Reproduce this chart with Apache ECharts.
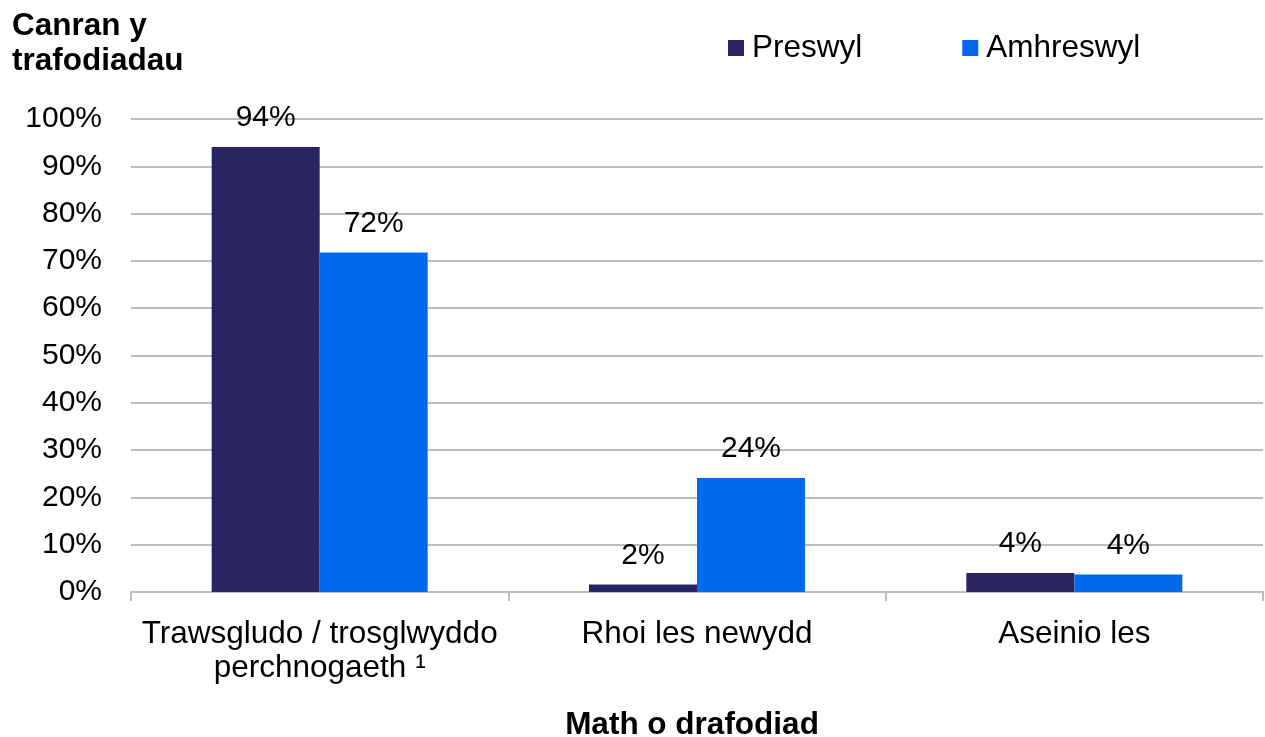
<!DOCTYPE html>
<html>
<head>
<meta charset="utf-8">
<script src="https://cdn.jsdelivr.net/npm/echarts@6/dist/echarts.min.js"></script>
<style>
html,body{margin:0;padding:0;background:#fff;}
#chart{width:1265px;height:737px;}
</style>
</head>
<body>
<div id="chart"></div>
<script>
const categories = ['Trawsgludo / trosglwyddo\nperchnogaeth \u00b9', 'Rhoi les newydd', 'Aseinio les'];
const seriesNames = ['Preswyl', 'Amhreswyl'];
const preswyl = [94.1, 1.6, 4.0];
const amhreswyl = [71.8, 24.1, 3.7];
const yTicks = [0, 10, 20, 30, 40, 50, 60, 70, 80, 90, 100];
const yTitle = 'Canran y\ntrafodiadau';
const xTitle = 'Math o drafodiad';

const FONT = '"Liberation Sans", Arial, sans-serif';
const chart = echarts.init(document.getElementById('chart'), null, {renderer: 'canvas'});
const labelCfg = {
  show: true, position: 'top', distance: 14,
  fontFamily: FONT, fontSize: 30, color: '#000',
  formatter: p => Math.round(p.value) + '%'
};
chart.setOption({
  animation: false,
  backgroundColor: '#fff',
  title: [
    {text: yTitle, left: 7, top: 4, padding: 5, textStyle: {fontFamily: FONT, fontSize: 31.5, fontWeight: 'bold', color: '#000', lineHeight: 35}},
    {text: xTitle, left: 687, top: 704, textAlign: 'center', textStyle: {fontFamily: FONT, fontSize: 31.5, fontWeight: 'bold', color: '#000'}}
  ],
  legend: {
    data: seriesNames, left: 728, top: 32, padding: 0, itemWidth: 16, itemHeight: 16, itemGap: 100,
    icon: 'rect',
    textStyle: {fontFamily: FONT, fontSize: 31.5, color: '#000', padding: [0, 0, 0, 3]}
  },
  grid: {left: 131, right: 2, top: 119, bottom: 145, containLabel: false},
  xAxis: {
    type: 'category', data: categories,
    axisLine: {lineStyle: {color: '#bdbdbd', width: 2}},
    axisTick: {show: true, length: 9, lineStyle: {color: '#bdbdbd', width: 2}},
    axisLabel: {interval: 0, fontFamily: FONT, fontSize: 31.5, color: '#000', margin: 25, lineHeight: 34}
  },
  yAxis: {
    type: 'value', min: yTicks[0], max: yTicks[yTicks.length - 1], interval: 10,
    axisLine: {show: false}, axisTick: {show: false},
    splitLine: {lineStyle: {color: '#bdbdbd', width: 2}},
    axisLabel: {fontFamily: FONT, fontSize: 30, color: '#000', margin: 29, formatter: v => v + '%'}
  },
  series: [
    {name: seriesNames[0], type: 'bar', data: preswyl, barWidth: 108, barGap: '0%', itemStyle: {color: '#2A2462'}, label: labelCfg},
    {name: seriesNames[1], type: 'bar', data: amhreswyl, barWidth: 108, barGap: '0%', itemStyle: {color: '#006AEE'}, label: labelCfg}
  ]
});
</script>
</body>
</html>
